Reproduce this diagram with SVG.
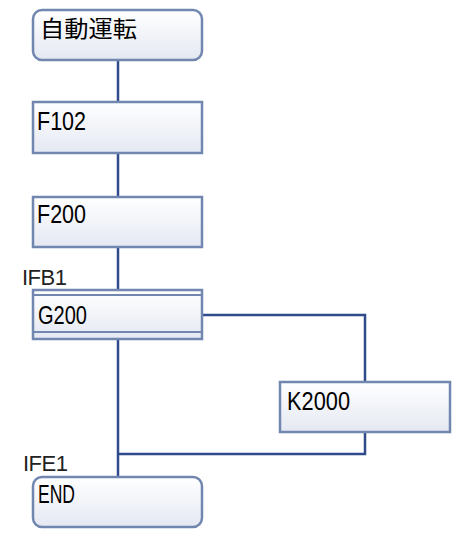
<svg xmlns="http://www.w3.org/2000/svg" width="466" height="557" viewBox="0 0 466 557">
<defs>
<linearGradient id="g" x1="0" y1="0" x2="0" y2="1">
<stop offset="0" stop-color="#ffffff"/>
<stop offset="1" stop-color="#e4e8f2"/>
</linearGradient>
</defs>
<style>
.box{fill:url(#g);stroke:#7287b0;stroke-width:2.5}
.ln{fill:none;stroke:#2f4b8c;stroke-width:2.5}
.t{font-family:"Liberation Sans","DejaVu Sans",sans-serif;font-size:25px;fill:#000}
.j{font-family:"Noto Sans CJK JP",sans-serif;font-size:23px;fill:#000}
.lb{font-family:"Liberation Sans","DejaVu Sans",sans-serif;font-size:22px;fill:#222}
</style>
<rect width="466" height="557" fill="#fff"/>
<g id="connectors">
<path class="ln" d="M118 60V102M118 153V197M118 247V289M118 339V476"/>
<path class="ln" d="M202 315H365V382M365 432V454H118"/>
</g>
<g id="n-start">
<rect class="box" x="33" y="10" width="169" height="50" rx="9"/>
<text class="j" x="40" y="37" textLength="97" lengthAdjust="spacingAndGlyphs">自動運転</text>
</g>
<g id="n-f102">
<rect class="box" x="33" y="102" width="169" height="51"/>
<text class="t" x="37" y="130" textLength="49" lengthAdjust="spacingAndGlyphs">F102</text>
</g>
<g id="n-f200">
<rect class="box" x="33" y="197" width="169" height="50"/>
<text class="t" x="37" y="223" textLength="49" lengthAdjust="spacingAndGlyphs">F200</text>
</g>
<g id="n-g200">
<text class="lb" x="22" y="285" textLength="45" lengthAdjust="spacing">IFB1</text>
<rect class="box" x="33" y="290" width="169" height="49"/>
<path d="M33 295H202M33 332H202" fill="none" stroke="#7287b0" stroke-width="2"/>
<text class="t" x="38" y="324" textLength="49" lengthAdjust="spacingAndGlyphs">G200</text>
</g>
<g id="n-k2000">
<rect class="box" x="280" y="382" width="170" height="50"/>
<text class="t" x="287" y="410" textLength="63" lengthAdjust="spacingAndGlyphs">K2000</text>
</g>
<g id="n-end">
<text class="lb" x="23" y="471" textLength="45" lengthAdjust="spacing">IFE1</text>
<rect class="box" x="33" y="477" width="169" height="50" rx="9"/>
<text class="t" x="38" y="503" textLength="37" lengthAdjust="spacingAndGlyphs">END</text>
</g>
</svg>
